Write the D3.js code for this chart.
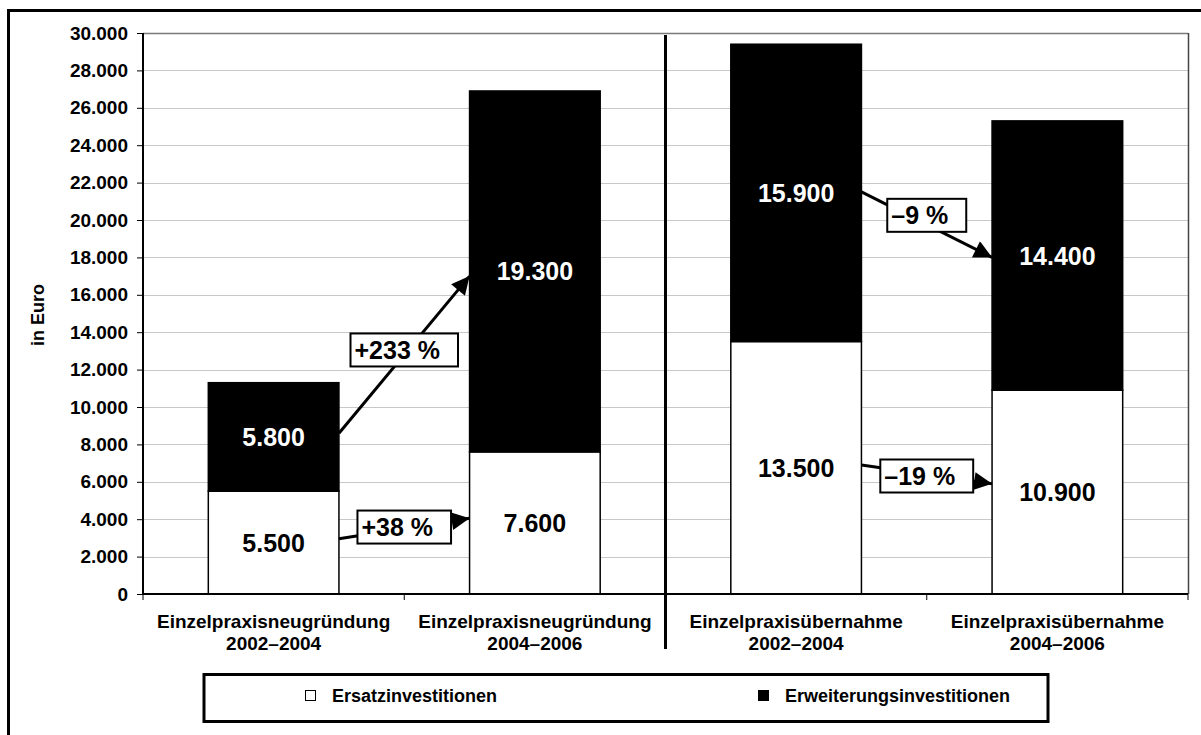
<!DOCTYPE html>
<html><head><meta charset="utf-8">
<script src="https://cdn.jsdelivr.net/npm/d3@7"></script>
<style>body{margin:0;background:#fff;}svg{display:block;font-family:"Liberation Sans",Arial,sans-serif;font-weight:bold;}</style>
</head><body>
<svg id="c" width="1201" height="735"></svg>
<script>
// ---- data ----
const categories = ["Einzelpraxisneugründung 2002–2004","Einzelpraxisneugründung 2004–2006","Einzelpraxisübernahme 2002–2004","Einzelpraxisübernahme 2004–2006"];
const categoryLines = [["Einzelpraxisneugründung","2002–2004"],["Einzelpraxisneugründung","2004–2006"],["Einzelpraxisübernahme","2002–2004"],["Einzelpraxisübernahme","2004–2006"]];
const ersatz = [5500, 7600, 13500, 10900];
const erweiterung = [5800, 19300, 15900, 14400];
const seriesNames = ["Ersatzinvestitionen","Erweiterungsinvestitionen"];
const yTicks = [0,2000,4000,6000,8000,10000,12000,14000,16000,18000,20000,22000,24000,26000,28000,30000];
const yLabel = "in Euro";
// change annotations: from bar i (value) to bar j (value), label and its anchor value
const changeLabels = ["+233 %","+38 %","–9 %","–19 %"];
const changeFrom = [[0,8600],[0,2950],[2,21500],[2,6900]];
const changeTo = [[1,17000],[1,4050],[3,18000],[3,5900]];
const changeLabelValue = [13050,3580,20250,6310];

// ---- chart ----
const svg = d3.select("#c");
const fmt = v => d3.format(",")(v).replace(/,/g,".");
const L=143, R=1188, T=33, B=594;
const x = d3.scaleBand().domain(categories).range([L,R]).paddingInner(0.5).paddingOuter(0.25);
const y = d3.scaleLinear().domain([0,30000]).range([B,T]);

// outer frame
svg.append("rect").attr("x",8.5).attr("y",10.5).attr("width",1200).attr("height",740)
  .attr("fill","none").attr("stroke","#000").attr("stroke-width",3);

// gridlines
svg.append("g").selectAll("line").data(yTicks.filter(d=>d>0)).join("line")
  .attr("x1",L).attr("x2",R).attr("y1",d=>Math.round(y(d))+0.5).attr("y2",d=>Math.round(y(d))+0.5)
  .attr("stroke",d=>d===30000?"#7a7a7a":"#c8c8c8").attr("stroke-width",d=>d===30000?1.5:1);
// right plot border
svg.append("line").attr("x1",R+0.5).attr("x2",R+0.5).attr("y1",T).attr("y2",B).attr("stroke","#444").attr("stroke-width",1.5);

// bars
const stack = categories.map((c,i)=>({c,i,a:ersatz[i],b:erweiterung[i]}));
const gb = svg.append("g");
gb.selectAll("rect.a").data(stack).join("rect").attr("class","a")
  .attr("x",d=>x(d.c)).attr("width",x.bandwidth())
  .attr("y",d=>y(d.a)).attr("height",d=>y(0)-y(d.a))
  .attr("fill","#fff").attr("stroke","#000").attr("stroke-width",1.5);
gb.selectAll("rect.b").data(stack).join("rect").attr("class","b")
  .attr("x",d=>x(d.c)).attr("width",x.bandwidth())
  .attr("y",d=>y(d.a+d.b)).attr("height",d=>y(d.a)-y(d.a+d.b))
  .attr("fill","#000").attr("stroke","#000").attr("stroke-width",1.5);

// bar labels
gb.selectAll("text.a").data(stack).join("text").attr("class","a")
  .attr("x",d=>x(d.c)+x.bandwidth()/2).attr("y",d=>y(d.a/2)).attr("dy","0.36em")
  .attr("text-anchor","middle").attr("font-size",25).attr("fill","#000").text(d=>fmt(d.a));
gb.selectAll("text.b").data(stack).join("text").attr("class","b")
  .attr("x",d=>x(d.c)+x.bandwidth()/2).attr("y",d=>y(d.a+d.b/2)).attr("dy","0.36em")
  .attr("text-anchor","middle").attr("font-size",25).attr("fill","#fff").text(d=>fmt(d.b));

// y axis
const ya = d3.axisLeft(y).tickValues(yTicks).tickFormat(fmt).tickSize(6).tickPadding(9);
const gy = svg.append("g").attr("transform",`translate(${L},0)`).call(ya);
gy.attr("font-size",null).attr("font-family",null);
gy.select(".domain").attr("stroke","#000").attr("stroke-width",2).attr("d",`M0,${T}V${B}`);
gy.selectAll(".tick line").attr("stroke","#000").attr("stroke-width",1);
gy.selectAll(".tick text").attr("font-size",19).attr("fill","#000");

// x axis
svg.append("line").attr("x1",L).attr("x2",R).attr("y1",B).attr("y2",B).attr("stroke","#000").attr("stroke-width",2);
const bounds = d3.range(categories.length+1).map(i=> L + i*x.step());
svg.append("g").selectAll("line").data(bounds).join("line")
  .attr("x1",d=>d).attr("x2",d=>d).attr("y1",B).attr("y2",B+6).attr("stroke","#000").attr("stroke-width",1);
const gx = svg.append("g");
categories.forEach((c,i)=>{
  const t = gx.append("text").attr("x",x(c)+x.bandwidth()/2).attr("y",628).attr("text-anchor","middle").attr("font-size",19);
  categoryLines[i].forEach((ln,k)=> t.append("tspan").attr("x",x(c)+x.bandwidth()/2).attr("dy",k?22:0).text(ln));
});

// divider between groups
const divX = L + 2*x.step();
svg.append("line").attr("x1",divX).attr("x2",divX).attr("y1",35).attr("y2",649).attr("stroke","#000").attr("stroke-width",3);

// y label
svg.append("text").attr("transform",`translate(44,315) rotate(-90)`).attr("text-anchor","middle").attr("font-size",18).text(yLabel);

// arrows
const defs = svg.append("defs");
defs.append("marker").attr("id","ah").attr("viewBox","0 0 10 10").attr("refX",10).attr("refY",5)
  .attr("markerWidth",7).attr("markerHeight",6).attr("markerUnits","strokeWidth").attr("orient","auto")
  .append("path").attr("d","M0,0L10,5L0,10Z").attr("fill","#000");
const ga = svg.append("g");
changeLabels.forEach((lab,i)=>{
  const [fi,fv]=changeFrom[i], [ti,tv]=changeTo[i];
  const x1 = x(categories[fi])+x.bandwidth(), y1=y(fv);
  const x2 = x(categories[ti]), y2=y(tv);
  ga.append("line").attr("x1",x1).attr("y1",y1).attr("x2",x2).attr("y2",y2)
    .attr("stroke","#000").attr("stroke-width",3).attr("marker-end","url(#ah)");
  const cx=(x1+x2)/2, cy=y(changeLabelValue[i]);
  const g = ga.append("g");
  const r = g.append("rect");
  const t = g.append("text").attr("font-size",25).attr("fill","#000").text(lab);
  const w = t.node().getComputedTextLength()+22, h=33;
  r.attr("x",cx-w/2).attr("y",cy-h/2).attr("width",w).attr("height",h).attr("fill","#fff").attr("stroke","#000").attr("stroke-width",2);
  t.attr("x",cx-w/2+4).attr("y",cy).attr("dy","0.36em");
});

// legend
const lg = svg.append("g");
lg.append("rect").attr("x",204).attr("y",674.5).attr("width",844).attr("height",47).attr("fill","#fff").attr("stroke","#000").attr("stroke-width",3);
const legX = [305, 758];
seriesNames.forEach((n,i)=>{
  lg.append("rect").attr("x",legX[i]+0.5).attr("y",690.5).attr("width",10).attr("height",10)
    .attr("fill",i?"#000":"#fff").attr("stroke","#000").attr("stroke-width",1);
  lg.append("text").attr("x",legX[i]+27).attr("y",702).attr("font-size",18).text(n);
});
</script>
</body></html>
